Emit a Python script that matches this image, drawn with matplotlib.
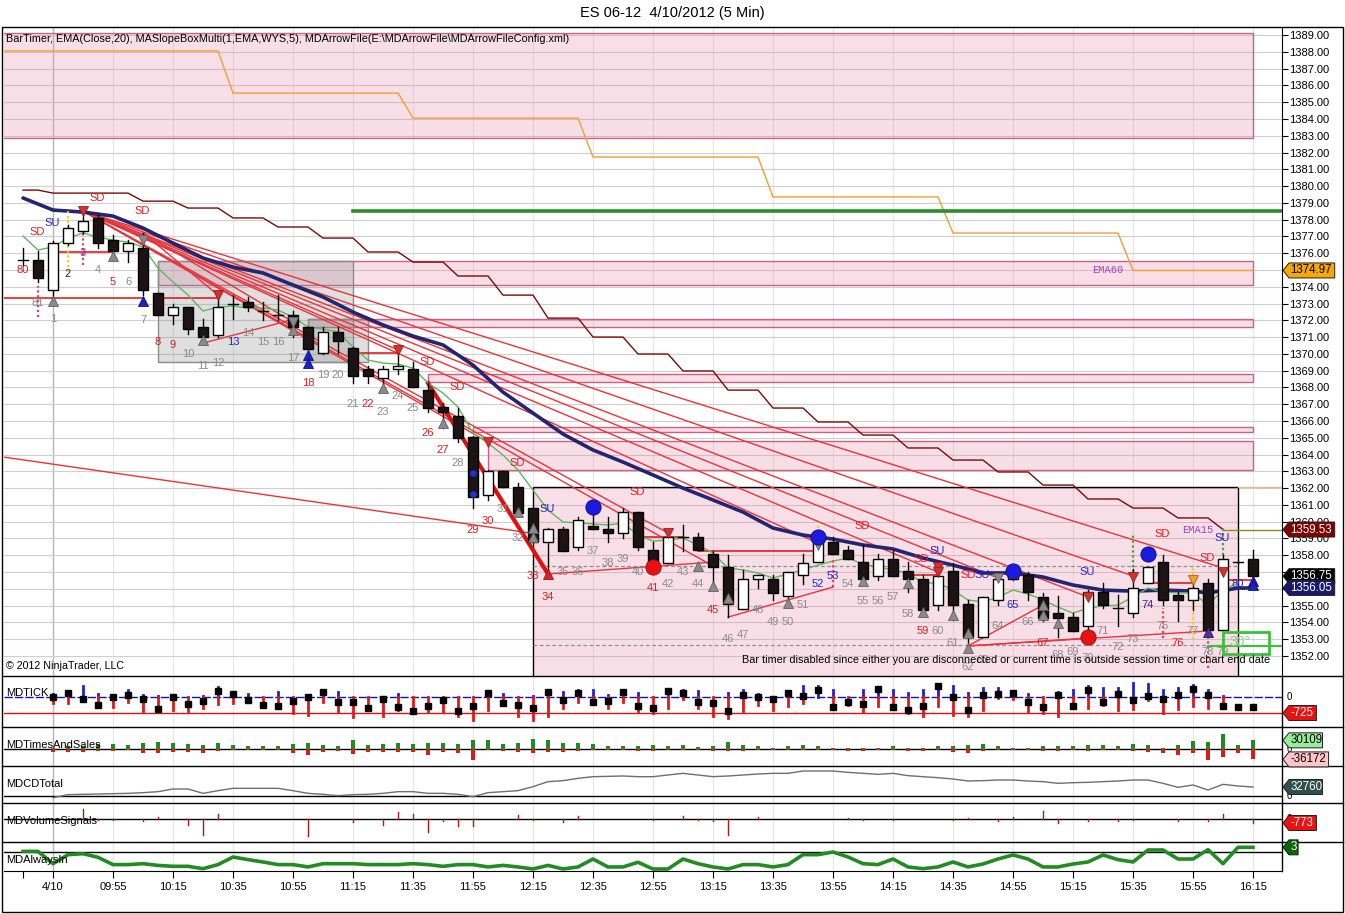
import numpy as np
import matplotlib
matplotlib.use("Agg")
import matplotlib.pyplot as plt
from matplotlib.patches import Rectangle, Polygon
from matplotlib.lines import Line2D

plt.rcParams['font.family'] = ['Liberation Sans', 'DejaVu Sans']

# ------------------------------------------------------------------ data
title = "ES 06-12  4/10/2012 (5 Min)"
# bar positions: -1, 0 are the prior session bars (80, 81); 1..81 today
bar_pos = list(range(-1, 82))
opens = [1375.6, 1375.6,
         1373.8, 1376.6, 1377.3, 1378.1, 1376.8, 1376.1, 1376.3, 1373.6, 1372.3, 1372.8,
         1371.6, 1371.1, 1373.0, 1373.1, 1372.55, 1372.3, 1372.3, 1371.6, 1370.05, 1371.3,
         1370.35, 1369.1, 1368.55, 1369.1, 1369.1, 1367.85, 1366.85, 1366.3, 1365.05, 1361.6,
         1363.0, 1362.05, 1360.8, 1358.8, 1359.55, 1358.5, 1359.75, 1359.55, 1359.3, 1360.55,
         1358.3, 1357.55, 1359.1, 1359.1, 1358.05, 1357.3, 1354.8, 1356.6, 1356.6, 1355.55,
         1356.8, 1357.6, 1358.8, 1358.3, 1357.6, 1356.75, 1357.8, 1357.05, 1356.6, 1355.05,
         1357.05, 1355.1, 1353.1, 1355.35, 1356.6, 1356.8, 1355.5, 1354.55, 1354.3, 1353.8,
         1355.8, 1354.85, 1354.55, 1356.35, 1357.6, 1355.6, 1355.3, 1356.35, 1353.55, 1357.6, 1357.8]
highs = [1376.3, 1376.1,
         1376.7, 1377.7, 1378.45, 1378.3, 1377.1, 1376.8, 1377.2, 1373.65, 1373.0, 1372.8,
         1372.1, 1373.5, 1373.5, 1373.4, 1373.1, 1373.5, 1372.55, 1371.6, 1371.6, 1371.6,
         1370.4, 1369.3, 1369.3, 1370.05, 1369.5, 1368.25, 1367.1, 1366.8, 1365.1, 1363.1,
         1363.0, 1362.3, 1360.8, 1359.6, 1359.7, 1360.3, 1360.5, 1360.3, 1360.8, 1360.55,
         1358.8, 1359.3, 1359.8, 1359.3, 1358.25, 1358.0, 1357.1, 1356.8, 1356.8, 1357.0,
         1358.1, 1359.3, 1359.1, 1358.55, 1358.6, 1358.1, 1358.3, 1357.6, 1356.8, 1357.2,
         1357.55, 1355.35, 1355.5, 1356.95, 1357.2, 1357.0, 1355.75, 1355.55, 1354.55, 1355.9,
         1356.35, 1355.65, 1357.2, 1357.3, 1358.0, 1355.8, 1356.6, 1356.6, 1358.0, 1357.65, 1358.3]
lows = [1375.3, 1374.3,
        1373.3, 1376.5, 1377.2, 1376.3, 1375.8, 1375.5, 1373.5, 1372.3, 1371.8, 1371.2,
        1370.7, 1371.0, 1372.1, 1372.55, 1372.0, 1372.0, 1371.0, 1370.3, 1370.0, 1370.05,
        1368.25, 1368.25, 1368.0, 1368.8, 1368.0, 1366.55, 1365.6, 1364.75, 1360.8, 1361.3,
        1362.05, 1360.5, 1358.8, 1356.8, 1358.25, 1358.3, 1359.55, 1358.8, 1359.0, 1358.3,
        1357.1, 1357.55, 1358.25, 1358.3, 1356.05, 1354.3, 1354.8, 1356.05, 1355.35, 1355.2,
        1356.3, 1357.6, 1358.05, 1357.8, 1356.55, 1356.55, 1356.75, 1355.8, 1354.75, 1354.75,
        1354.15, 1352.55, 1353.1, 1355.05, 1356.5, 1355.3, 1354.05, 1353.15, 1353.5, 1353.4,
        1354.85, 1353.8, 1354.3, 1356.35, 1355.05, 1354.05, 1354.75, 1353.55, 1353.55, 1357.55, 1356.6]
closes = [1375.6, 1374.5,
          1376.6, 1377.5, 1377.9, 1376.6, 1376.1, 1376.6, 1373.8, 1372.3, 1372.8, 1371.5,
          1371.0, 1372.8, 1373.0, 1372.8, 1372.55, 1372.3, 1371.6, 1370.3, 1371.3, 1370.75,
          1368.7, 1368.7, 1369.1, 1369.3, 1368.0, 1366.8, 1366.55, 1365.0, 1361.45, 1363.0,
          1362.05, 1360.5, 1358.8, 1359.55, 1358.25, 1360.1, 1359.55, 1359.3, 1360.55, 1358.5,
          1357.55, 1359.1, 1359.1, 1358.3, 1357.3, 1355.1, 1356.6, 1356.8, 1355.75, 1357.0,
          1357.55, 1358.8, 1358.05, 1357.8, 1356.6, 1357.8, 1356.75, 1356.6, 1354.75, 1356.75,
          1355.05, 1353.1, 1355.5, 1356.6, 1357.0, 1355.8, 1354.25, 1354.25, 1353.5, 1355.8,
          1355.05, 1354.85, 1356.05, 1357.3, 1355.3, 1355.3, 1356.05, 1353.55, 1357.8, 1357.6, 1356.75]

time_tick_bars = [1, 5, 9, 13, 17, 21, 25, 29, 33, 37, 41, 45, 49, 53, 57, 61, 65, 69, 73, 77, 81]
time_labels = ['4/10', '09:55', '10:15', '10:35', '10:55', '11:15', '11:35', '11:55', '12:15',
               '12:35', '12:55', '13:15', '13:35', '13:55', '14:15', '14:35', '14:55', '15:15',
               '15:35', '15:55', '16:15']
price_ticks = list(range(1352, 1390))

# EMA(Close,20) - thin green
ema20 = [1377.02, 1376.19,
         1376.37, 1376.90, 1377.20, 1376.96, 1376.78, 1376.66, 1376.37, 1375.11, 1374.28, 1373.51,
         1372.55, 1372.79, 1372.85, 1372.73, 1372.73, 1372.61, 1372.19, 1371.60, 1371.48, 1371.30,
         1370.41, 1369.63, 1369.45, 1369.39, 1369.15, 1368.26, 1367.66, 1366.83, 1365.28, 1364.68,
         1363.97, 1363.08, 1361.88, 1360.69, 1359.98, 1359.92, 1359.86, 1359.80, 1359.92, 1359.20,
         1358.84, 1358.90, 1359.02, 1358.61, 1358.13, 1357.23, 1357.12, 1356.94, 1356.64, 1356.88,
         1357.12, 1357.41, 1357.65, 1357.83, 1357.47, 1357.29, 1357.12, 1356.94, 1356.34, 1356.34,
         1355.92, 1355.33, 1355.21, 1355.51, 1355.92, 1355.69, 1355.33, 1354.91, 1354.55, 1354.85,
         1354.97, 1355.03, 1355.51, 1356.04, 1355.80, 1355.75, 1355.75, 1355.03, 1355.92, 1356.34]
# slow navy EMA (read every two bars)
navy_bars = [-1, 1, 3, 5, 7, 9, 11, 13, 15, 17, 19, 21, 23, 25, 27, 29, 31, 33, 35, 37, 39, 41,
             43, 45, 47, 49, 51, 53, 55, 57, 59, 61, 63, 65, 67, 69, 71, 73, 75, 77, 78, 80, 81]
navy_vals = [1379.29, 1378.57, 1378.45, 1378.21, 1377.50, 1376.60, 1375.71, 1375.17, 1374.82,
             1374.10, 1373.39, 1372.49, 1371.72, 1371.06, 1370.53, 1369.33, 1367.72, 1366.47,
             1365.22, 1364.27, 1363.55, 1362.78, 1362.00, 1361.29, 1360.57, 1359.62, 1359.20,
             1358.96, 1358.61, 1358.37, 1357.83, 1357.41, 1356.94, 1356.94, 1356.70, 1356.22,
             1355.92, 1355.86, 1355.92, 1355.86, 1355.75, 1356.04, 1356.05]
# EMA15 (15-minute, dark red step) : prior value, then one value per 15-min group of 3 bars
ema15_prior = 1379.76
ema15_groups = [1379.58, 1379.58, 1379.10, 1378.69, 1378.10, 1377.56, 1376.90, 1376.07, 1375.47,
                1374.64, 1373.50, 1372.13, 1371.00, 1369.99, 1368.98, 1367.84, 1366.77, 1365.94,
                1365.16, 1364.39, 1363.67, 1362.96, 1362.18, 1361.35, 1360.81, 1360.22, 1359.53]
# EMA60 (hourly, orange step) : one value per hour of 12 bars
ema60_hours = [1388.05, 1385.54, 1384.05, 1381.73, 1379.35, 1377.20, 1374.97]
green_level = 1378.5

# pink supply zones: (from bar, to bar, low, high)
zones = [(-4, 81, 1382.86, 1389.12), (8, 81, 1374.10, 1375.53), (18, 81, 1371.60, 1372.10),
         (26, 81, 1368.32, 1368.80), (29, 81, 1365.35, 1365.64), (30, 81, 1363.07, 1364.80)]
slope_box = (33, 80, 1350.0, 1362.06)
gray_boxes = [(8, 21, 1369.51, 1375.53), (18, 22, 1369.51, 1372.07)]

# trend / fan lines
fan_origin = (3, 1378.51)
fan_ends = [(24, 1370.23), (30, 1364.74), (42, 1359.32), (45, 1357.35), (52, 1358.72),
            (60, 1356.99), (64, 1356.64), (70, 1355.51), (73, 1356.76), (79, 1357.24)]
fan2_origin = (7, 1377.2)
fan2_ends = [(12, 1373.5), (17, 1371.9)]
long_line = (-2.3, 1363.85, 33, 1359.3)
thick_line = (26, 1368.26, 34, 1356.88)
support_lines = [(11, 1370.64, 16.8, 1372.0), (34, 1356.88, 45, 1357.59), (46, 1354.31, 53, 1356.1),
                 (62, 1352.59, 67, 1355.03), (62, 1352.59, 70, 1353.06), (62, 1352.59, 78, 1353.48)]
swing_lines = [(-2.3, 7, 1373.33), (1, 5, 1376.07), (7.7, 12, 1373.33), (21, 24, 1370.05),
               (40, 43, 1359.08), (44, 52, 1358.25), (58, 60, 1356.8), (74, 77, 1356.34), (79, 81, 1356.5)]
dashed_levels = [(33, 80, 1357.35), (33, 80, 1352.65)]

# dotted verticals: (bar, top, bottom, colour)
vdots = [(0, 1374.04, 1372.2, '#e0406a'), (2, 1378.57, 1374.58, '#f2d21a'), (3, 1377.3, 1375.29, '#c04a8a'),
         (52, 1359.97, 1357.6, '#f2d21a'), (53, 1357.83, 1356.1, '#e0406a'), (73, 1359.32, 1356.7, '#4c9a4c'),
         (75, 1354.85, 1353.06, '#e0406a'), (77, 1357.24, 1353.0, '#f2d21a'), (78, 1353.12, 1351.3, '#e0406a'),
         (79, 1359.68, 1358.0, '#4c9a4c')]

# triangles / dots
tri_up_gray = [(1, 1373.15), (5, 1375.83), (11, 1370.82), (17, 1371.42), (23, 1367.96), (27, 1365.88),
               (32, 1360.57), (33, 1359.62), (33, 1359.08), (44, 1357.35), (45, 1356.16), (46, 1355.45),
               (50, 1355.15), (55, 1356.46), (58, 1356.34), (59, 1354.6), (61, 1354.44), (62, 1353.36),
               (62, 1352.47), (67, 1355.03), (67, 1354.44), (68, 1353.96)]
tri_dn_gray = [(7, 1376.78), (17, 1371.9), (52, 1358.6), (64, 1356.64)]
tri_dn_red = [(3, 1378.51), (12, 1373.5), (24, 1370.23), (30, 1364.74), (42, 1359.32), (60, 1357.3),
              (60, 1357.0), (70, 1355.5), (73, 1356.7), (79, 1357.0)]
tri_dn_orange = [(77, 1356.5)]
tri_up_red = [(34, 1356.88)]
tri_up_blue = [(7, 1373.15), (18, 1369.93), (18, 1369.45), (81, 1356.46), (81, 1356.22)]
tri_up_purple = [(78, 1353.4)]
dots_blue = [(37, 1360.87), (52, 1359.08), (65, 1357.06), (74, 1358.07)]
dots_red = [(41, 1357.3), (70, 1353.1)]
small_blue = [(29, 1362.88), (29, 1361.63)]

# bar number labels ('80','81' of prior session, then 1..80)
bar_label_text = ['80', '81'] + [str(n) for n in range(1, 81)]
bar_label_x = [-1, 0] + list(range(1, 81))
bar_label_y = [1374.98, 1373.03, 1372.07, 1374.76, 1376.01, 1374.99, 1374.28, 1374.28, 1372.01, 1370.70,
               1370.52, 1369.99, 1369.27, 1369.45, 1370.70, 1371.24, 1370.70, 1370.70, 1369.75, 1368.26,
               1368.74, 1368.74, 1367.01, 1367.01, 1366.53, 1367.49, 1366.77, 1365.28, 1364.27, 1363.49,
               1359.50, 1360.04, 1360.75, 1359.02, 1356.76, 1355.51, 1357.0, 1357.0, 1358.25, 1357.53,
               1357.77, 1357.0, 1356.04, 1356.28, 1357.0, 1356.28, 1354.73, 1353.0, 1353.24, 1354.73,
               1354.02, 1354.02, 1355.03, 1356.28, 1356.76, 1356.28, 1355.27, 1355.27, 1355.51, 1354.49,
               1353.48, 1353.48, 1352.77, 1351.34, 1351.75, 1353.78, 1355.03, 1354.02, 1352.77, 1352.05,
               1352.23, 1351.87, 1353.48, 1352.53, 1353.0, 1355.03, 1353.78, 1352.77, 1353.48, 1352.23,
               1352.23, 1356.28]
bar_label_code = ("rg" + "gbpgrggrrggg" + "bgggg" + "rgggrggg" + "rrgrrggrr" + "gggggg" + "rggg"
                  + "rgggggg" + "bb" + "ggggg" + "rggggg" + "bg" + "rggggg" + "g" + "bg" + "rggg" + "b")
sdsu = [('SD', -0.07, 1377.26), ('SU', 0.93, 1377.80), ('SD', 3.93, 1379.29), ('SD', 6.93, 1378.51),
        ('SD', 25.93, 1369.51), ('SD', 27.93, 1368.02), ('SD', 31.93, 1363.49), ('SU', 33.93, 1360.75),
        ('SD', 39.93, 1361.76), ('SD', 54.93, 1359.74), ('SD', 58.87, 1357.77), ('SU', 59.93, 1358.25),
        ('SD', 62.0, 1356.82), ('SU', 62.93, 1356.82), ('SU', 69.93, 1357.0), ('SD', 74.93, 1359.26),
        ('SU', 78.93, 1359.02), ('SD', 77.93, 1357.83)]

# ---- indicator panels (bars 1..81)
ind_bars = list(range(1, 82))
tick_hi = [150, 180, 480, 150, 30, 330, 105, 60, 30, 0,
           30, 450, 210, 150, 0, 225, 0, 0, 255, 225,
           0, 0, 0, 150, 0, 0, 0, 0, 0, 210,
           150, 0, 60, 300, 240, 330, 330, 105, 210, 180,
           0, 300, 330, 285, 0, 180, 330, 150, 0, 255,
           480, 510, 330, 0, 300, 400, 330, 180, 330, 560,
           480, 180, 400, 400, 255, 150, 0, 210, 300, 510,
           400, 400, 635, 600, 330, 400, 560, 330, 60, 0, 0]
tick_lo = [-270, -270, -90, -420, -450, -225, -650, -695, -575, -650,
           -500, -300, -270, -195, -420, -420, -725, -800, -225, -650,
           -905, -545, -845, -575, -725, -650, -695, -870, -1050, -600,
           -270, -870, -1025, -870, -500, -240, -270, -500, -240, -650,
           -725, -500, -90, -500, -845, -950, -650, -345, -600, -420,
           -270, 0, -470, -345, -695, -420, -545, -725, -845, -390,
           -800, -845, -600, -45, -90, -650, -725, -845, -500, -500,
           -345, -600, -545, -150, -725, -545, -390, -500, -420, 0, 0]
tick_close = [0, 180, -90, -350, 0, 90, -90, -545, 0, -315,
              -195, 255, 120, -150, -375, -420, -195, -15, 210, -240,
              -240, -515, -75, -470, -650, -420, -150, -650, -420, 180,
              -270, -375, -515, 240, -150, 180, -240, -195, 210, -420,
              -515, 255, 180, -240, -270, -650, 105, 0, -90, 180,
              30, 330, -470, -240, -315, 360, -470, -600, -420, 480,
              -15, -600, 105, 150, 180, -240, -470, 105, -420, 300,
              -240, 135, -150, 60, -90, 75, 360, 75, -420, -470, -470]
tick_level = -725

ts_buy = [4600, 9300, 9300, 16200, 16200, 12700, 20800, 24300, 20800, 18500,
          12700, 20800, 12700, 9300, 9300, 9300, 16200, 20800, 12700, 9300,
          30100, 12700, 18500, 20800, 16200, 20800, 20800, 16200, 30100, 30100,
          16200, 20800, 33600, 30100, 20800, 20800, 16200, 9300, 9300, 9300,
          12700, 9300, 12700, 6900, 9300, 24300, 12700, 9300, 4600, 9300,
          12700, 9300, 4600, 4600, 4600, 4600, 9300, 4600, 4600, 9300,
          9300, 12700, 16200, 9300, 4600, 4600, 9300, 9300, 9300, 12700,
          12700, 9300, 16200, 12700, 4600, 12700, 26600, 24300, 53300, 12700, 30109]
ts_sell = [-11600, -9300, -9300, -6900, -6900, -4600, -13900, -13900, -9300, -11600,
           -13900, -6900, -4600, -2300, -4600, -4600, -13900, -22000, -10400, -6900,
           -18500, -9300, -11600, -11600, -11600, -20800, -10400, -13900, -37100, -2300,
           -6900, -10400, -13900, -10400, -10400, -6900, -2300, -4600, -4600, -6900,
           -8100, -2300, -2300, -4600, -8100, -8100, -8100, -2300, -4600, -2300,
           -4600, -4600, -2300, -6900, -8100, -2300, -2300, -8100, -8100, -4600,
           -10400, -13900, -6900, -4600, -2300, -4600, -6900, -6900, -4600, -6900,
           -4600, -4600, -6900, -9300, -13900, -20800, -13900, -37100, -27800, -13900, -36172]
cd_total = [-6065, 4850, 6065, 7280, 8490, 9700, 12130, 15770, 25470, 25470,
            9700, 19400, 27900, 27900, 27900, 27900, 19400, 9700, 6065, 1213,
            4850, 6065, 9700, 15770, 15770, 9700, 9700, 6065, -2430, 12130,
            15770, 19400, 33960, 52160, 55800, 64290, 70350, 71570, 72780, 70350,
            70350, 76420, 82480, 76420, 70350, 72780, 76420, 80060, 82480, 82480,
            90980, 90980, 90980, 86120, 82480, 78850, 82480, 74000, 70350, 66720,
            61860, 54590, 55800, 58220, 58220, 54590, 52160, 46090, 48520, 49730,
            52160, 54590, 58220, 58220, 46090, 31540, 40030, 21830, 42460, 36390, 32760]
vs_bars = [3, 4, 5, 7, 8, 10, 11, 12, 18, 21, 23, 24, 25, 26, 27, 28, 29, 32, 33, 35, 36, 41,
           43, 44, 45, 46, 48, 54, 55, 57, 61, 62, 64, 65, 67, 68, 70, 72, 73, 76, 78, 79, 81]
vs_vals = [1920, -256, -256, -448, 320, -1216, -3008, 960, -3328, -640, -1088, 1280, 960, -2560,
           -448, -1280, -1280, 832, -256, -640, 512, -256, 512, -256, -448, -3008, 320, 192, -256,
           -256, -256, 192, -320, 448, 1472, -768, -320, -320, -256, -448, -448, 960, -773]
always_in = [0.4, 0.4,
             -7.5, -1.7, -1.1, -3.4, -8.1, -8.1, -7.5, -8.6, -9.2, -9.2,
             -10.7, -8.1, -3.2, -4.9, -6.4, -8.1, -8.1, -9.6, -7.5, -7.5,
             -7.5, -8.1, -8.1, -8.1, -7.5, -8.1, -9.2, -8.1, -8.1, -9.6,
             -8.6, -9.6, -10.9, -8.6, -10.9, -9.6, -4.5, -9.6, -9.6, -6.6,
             -10.9, -10.9, -4.5, -7.5, -9.6, -10.9, -8.1, -8.1, -9.6, -8.1,
             -1.7, -1.7, 0.0, -3.2, -7.5, -8.1, -4.5, -9.6, -10.7, -9.6,
             -6.4, -9.6, -7.7, -4.5, -1.9, -4.5, -9.6, -9.6, -7.7, -6.4,
             -1.9, -4.9, -6.4, 1.3, 1.3, -4.5, -4.5, 1.5, -7.5, 3.0, 3.0]

# ------------------------------------------------------------------ layout
W, H = 1345, 914
fig = plt.figure(figsize=(W / 100, H / 100), dpi=100)
fig.patch.set_facecolor('white')


def rect(l, t, r, b):
    return [l / W, 1 - b / H, (r - l) / W, (b - t) / H]


def fline(x0, y0, x1, y1, **kw):
    fig.add_artist(Line2D([x0 / W, x1 / W], [1 - y0 / H, 1 - y1 / H],
                          transform=fig.transFigure, **kw))


XMIN, XMAX = 1 + (4 - 53) / 15, 1 + (1282 - 53) / 15
PLOT_L, PLOT_R = 4, 1282

ax = fig.add_axes(rect(PLOT_L, 27, PLOT_R, 676))
ax.set_xlim(XMIN, XMAX)
ax.set_ylim(1350.80, 1389.48)

panels_px = [(676, 727), (727, 766), (766, 803), (803, 842), (842, 871)]
subs = [fig.add_axes(rect(PLOT_L, t, PLOT_R, b)) for t, b in panels_px]
sub_ylims = [(-1359, 951), (-59060, 76430), (-25480, 109200), (-4439, 3088), (-12.2, 6.43)]
for a, yl in zip(subs, sub_ylims):
    a.set_xlim(XMIN, XMAX)
    a.set_ylim(*yl)
    a.set_yticks([])
    a.set_facecolor('none')
    for s in ['top', 'left', 'bottom']:
        a.spines[s].set_visible(False)
    a.spines['right'].set_linewidth(1)
    a.set_xticks([])

for a in [ax] + subs:
    for tb in time_tick_bars:
        a.axvline(tb, color='#e6e6e6', lw=0.8, zorder=0.1)
    a.axvline(1, color='#b8b8b8', lw=1.0, zorder=0.15)

# ---- main axes styling
ax.set_facecolor('white')
ax.spines['left'].set_visible(False)
ax.spines['bottom'].set_visible(False)
ax.spines['top'].set_visible(False)
ax.yaxis.tick_right()
ax.set_yticks(price_ticks)
ax.set_yticklabels([f"{v:.2f}" for v in price_ticks])
ax.tick_params(axis='y', direction='out', length=4, width=0.8, labelsize=8, pad=1)
ax.set_xticks([])
for v in price_ticks:
    ax.axhline(v, color='#cfcfcf', lw=0.8, zorder=0.2)

PINK_FILL = (0.91, 0.55, 0.66, 0.27)
PINK_EDGE = '#c96384'
for b0, b1, lo, hi in zones:
    ax.add_patch(Rectangle((b0, lo), b1 - b0, hi - lo, fc=PINK_FILL, ec=PINK_EDGE, lw=1, zorder=1))
b0, b1, lo, hi = slope_box
ax.add_patch(Rectangle((b0, lo), b1 - b0, hi - lo, fc=PINK_FILL, ec='none', zorder=1))
ax.plot([b0, b0, b1, b1], [lo, hi, hi, lo], color='black', lw=1, zorder=1.2)
for b0, b1, lo, hi in gray_boxes:
    ax.add_patch(Rectangle((b0, lo), b1 - b0, hi - lo, fc=(0.55, 0.55, 0.55, 0.28),
                           ec='#8c8c8c', lw=1, zorder=1.1))

# step EMAs
ema60_x = list(range(-3, 82))
ema60_y = [ema60_hours[max(0, (b - 1) // 12)] for b in ema60_x]
ax.plot(ema60_x, ema60_y, color='#f0a030', lw=1, zorder=2)
ema15_x = [-1, 0] + list(range(1, 80))
ema15_y = [ema15_prior, ema15_prior] + [ema15_groups[(b - 1) // 3] for b in range(1, 80)]
ax.plot(ema15_x, ema15_y, color='#7a0a0a', lw=1, zorder=2)
ax.plot([79, XMAX], [ema15_groups[-1]] * 2, color='#8a8a20', lw=1, zorder=2)
ax.plot([80, XMAX], [slope_box[3]] * 2, color='#d8c090', lw=1, zorder=2)
ax.plot([21, XMAX], [green_level] * 2, color='#2e8b2e', lw=2.6, zorder=2)

# red lines
RED = '#e8343c'
for eb, ep in fan_ends:
    ax.plot([fan_origin[0], eb], [fan_origin[1], ep], color=RED, lw=1, zorder=2.5)
for eb, ep in fan2_ends:
    ax.plot([fan2_origin[0], eb], [fan2_origin[1], ep], color=RED, lw=1, zorder=2.5)
ax.plot(long_line[::2], long_line[1::2], color=RED, lw=1, zorder=2.5)
ax.plot(thick_line[::2], thick_line[1::2], color='#e01010', lw=3, zorder=2.6)
for x0, y0, x1, y1 in support_lines:
    ax.plot([x0, x1], [y0, y1], color=RED, lw=1, zorder=2.5)
for x0, x1, y in swing_lines:
    ax.plot([x0, x1], [y, y], color='#e02020', lw=1.2, zorder=2.5)
for x0, x1, y in dashed_levels:
    ax.plot([x0, x1], [y, y], color='#909090', lw=0.9, ls=(0, (3, 2)), zorder=2.4)

# moving averages
ax.plot(navy_bars, navy_vals, color='#242470', lw=2.6, zorder=3, solid_capstyle='round')
ax.plot(list(range(-1, 81)), ema20, color='#5cb85c', lw=1, zorder=3.1)

for b, top, bot, col in vdots:
    ax.plot([b, b], [bot, top], color=col, lw=1.6, ls=(0, (1, 1.2)), zorder=3.2)

# candles
for b, o, h, l, c in zip(bar_pos, opens, highs, lows, closes):
    ax.plot([b, b], [l, h], color='black', lw=1, zorder=4)
    if abs(c - o) < 0.02:
        ax.plot([b - 0.35, b + 0.35], [c, c], color='black', lw=1, zorder=4.2)
    else:
        ax.add_patch(Rectangle((b - 0.35, min(o, c)), 0.7, abs(c - o),
                               fc='white' if c > o else '#1c1414', ec='black', lw=1, zorder=4.1))

# markers
def mk(pts, marker, fc, ec, ms, z=6):
    if pts:
        xs, ys = zip(*pts)
        ax.plot(xs, ys, ls='none', marker=marker, ms=ms, mfc=fc, mec=ec, mew=0.6, zorder=z)

mk(tri_up_gray, '^', '#8a8a8a', '#606060', 7)
mk(tri_dn_gray, 'v', '#8a8a8a', '#606060', 7)
mk(tri_dn_red, 'v', '#d83030', '#902020', 7)
mk(tri_dn_orange, 'v', '#f0a030', '#b06010', 7)
mk(tri_up_red, '^', '#e02020', '#902020', 7)
mk(tri_up_blue, '^', '#2020c8', '#101070', 7)
mk(tri_up_purple, '^', '#5030a0', '#301060', 7)
mk(dots_blue, 'o', '#1a1ae0', '#101070', 11)
mk(dots_red, 'o', '#e81010', '#901010', 11)
mk(small_blue, 'o', '#2030e0', '#2030e0', 4)

# bar labels
col_map = {'r': '#d42020', 'g': '#8a8a8a', 'b': '#2424c4', 'p': '#8a3aa0'}
for t, x, y, cc in zip(bar_label_text, bar_label_x, bar_label_y, bar_label_code):
    ax.text(x, y, t, color=col_map[cc], fontsize=8, ha='center', va='center', zorder=5)
for t, x, y in sdsu:
    ax.text(x, y, t, color='#e02020' if t == 'SD' else '#2424c4', fontsize=8,
            ha='center', va='center', zorder=5)

ax.text(71.3, 1374.98, 'EMA60', color='#a040c0', fontsize=7.5, family='Liberation Mono',
        ha='center', va='center', zorder=5)
ax.text(77.3, 1359.5, 'EMA15', color='#a040c0', fontsize=7.5, family='Liberation Mono',
        ha='center', va='center', zorder=5)
ax.add_patch(Rectangle((79, 1352.11), 3.07, 1.31, fc='none', ec='#3cc03c', lw=2, zorder=5))
ax.plot([78, XMAX], [1352.59, 1352.59], color='#3cc03c', lw=1.5, zorder=5)
ax.text(79.4, 1352.85, '30°', color='#8ad08a', fontsize=10, ha='left', va='center', zorder=5)

ax.text(2 / 1278, 1 - 12 / 649,
        r'BarTimer, EMA(Close,20), MASlopeBoxMulti(1,EMA,WYS,5), MDArrowFile(E:\MDArrowFile\MDArrowFileConfig.xml)',
        transform=ax.transAxes, fontsize=7.8, ha='left', va='center', zorder=7)
ax.text(2 / 1278, 10 / 649, '© 2012 NinjaTrader, LLC', transform=ax.transAxes,
        fontsize=7.7, ha='left', va='center', zorder=7)
ax.text(1266 / 1278, 16 / 649,
        'Bar timer disabled since either you are disconnected or current time is outside session time or chart end date',
        transform=ax.transAxes, fontsize=7.8, ha='right', va='center', zorder=7)

# ---- indicator panels
a1, a2, a3, a4, a5 = subs
# MDTICK
a1.axhline(0, color='#1010c0', lw=1, ls=(0, (6, 1.5)), zorder=1)
a1.axhline(tick_level, color='#e01010', lw=1, zorder=1)
for b, hi, lo, c in zip(ind_bars, tick_hi, tick_lo, tick_close):
    if hi > 0:
        a1.plot([b, b], [0, hi], color='#2020d0', lw=2, zorder=2)
    if lo < 0:
        a1.plot([b, b], [lo, 0], color='#e01818', lw=2, zorder=2)
a1.plot(ind_bars, tick_close, ls='none', marker='s', ms=4, mfc='black', mec='black', zorder=3)
# MDTimesAndSales
a2.axhline(0, color='black', lw=1, zorder=1)
a2.bar(ind_bars, ts_buy, width=0.3, color='#1e8c1e', zorder=2)
a2.bar(ind_bars, ts_sell, width=0.3, color='#e01818', zorder=2)
# MDCDTotal
a3.axhline(0, color='black', lw=1, zorder=1)
a3.plot(ind_bars, cd_total, color='#6e6e6e', lw=1, zorder=2)
# MDVolumeSignals
a4.axhline(0, color='black', lw=1, zorder=1)
for b, v in zip(vs_bars, vs_vals):
    a4.plot([b, b], [0, v], color='#b01818', lw=1, zorder=2)
# MDAlwaysIn
a5.axhline(0, color='black', lw=1, zorder=1)
a5.plot(bar_pos, always_in, color='#228b22', lw=2.6, zorder=2)
a5.spines['bottom'].set_visible(True)
a5.set_xticks([-1] + time_tick_bars)
a5.set_xticklabels([''] + time_labels)
a5.tick_params(axis='x', direction='out', length=5, width=0.8, labelsize=8, pad=3)

panel_names = ['MDTICK', 'MDTimesAndSales', 'MDCDTotal', 'MDVolumeSignals', 'MDAlwaysIn']
name_y = [693, 745, 784, 821, 860]
for n, y in zip(panel_names, name_y):
    fig.text(6 / W, 1 - y / H, n, fontsize=8, ha='left', va='center')

for a in subs:
    yz = fig.transFigure.inverted().transform(a.transData.transform((0, 0)))[1]
    fig.text(1287 / W, yz, '0', fontsize=7, ha='left', va='center')


# ---- right-side value tags
def tag(axis, val, text, fc, tc, fs=8.3):
    yf = fig.transFigure.inverted().transform(axis.transData.transform((0, val)))[1]
    x0 = 1283 / W
    h = 15 / H
    tip = 6 / W
    w = (9 + 6.1 * len(text)) / W
    fig.add_artist(Polygon([(x0, yf), (x0 + tip, yf + h / 2), (x0 + w, yf + h / 2),
                            (x0 + w, yf - h / 2), (x0 + tip, yf - h / 2)], closed=True,
                           transform=fig.transFigure, fc=fc, ec='#202020', lw=0.7, zorder=10))
    fig.text(x0 + tip + 1.5 / W, yf, text, color=tc, fontsize=fs, ha='left', va='center', zorder=11)


tag(ax, ema60_hours[-1], f"{ema60_hours[-1]:.2f}", '#f5a800', 'black')
tag(ax, ema15_groups[-1], f"{ema15_groups[-1]:.2f}", '#800000', 'white')
tag(ax, closes[-1], f"{closes[-1]:.2f}", 'black', 'white')
tag(ax, navy_vals[-1], f"{navy_vals[-1]:.2f}", '#191970', 'white')
tag(a1, tick_level, f"{tick_level}", '#ee1111', 'white')
tag(a2, ts_buy[-1], f"{ts_buy[-1]}", '#98ee98', 'black')
tag(a2, ts_sell[-1], f"{ts_sell[-1]}", '#ffc4cc', 'black')
tag(a3, cd_total[-1], f"{cd_total[-1]}", '#2f4f4f', 'white')
tag(a4, vs_vals[-1], f"{vs_vals[-1]}", '#ee1111', 'white')
tag(a5, always_in[-1], f"{always_in[-1]:.0f}", '#0a640a', 'white')

# ---- frame, separators, title
fig.add_artist(Rectangle((1.5 / W, 1 - 912 / H), 1341 / W, 885 / H, fill=False, ec='black',
                         lw=1, transform=fig.transFigure))
for y in [676, 727, 766, 803, 842]:
    fline(1.5, y, 1342.5, y, color='black', lw=1)
fig.text(0.5, 1 - 13 / H, title, fontsize=10.5, ha='center', va='center')

fig.savefig('out.png', dpi=100)
